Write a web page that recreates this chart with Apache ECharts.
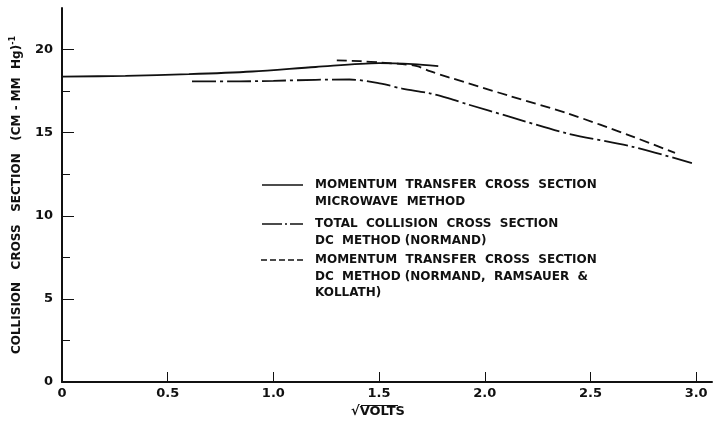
<!DOCTYPE html>
<html>
<head>
<meta charset="utf-8">
<script src="https://cdn.jsdelivr.net/npm/echarts@6/dist/echarts.min.js"></script>
<style>
  html, body { margin: 0; padding: 0; background: #fff; }
  #chart { width: 715px; height: 429px; }
</style>
</head>
<body>
<div id="chart"></div>
<script>
// Collision cross section vs sqrt(volts), three measurement methods
const microwaveX = [0, 0.3, 0.6, 0.9, 1.2, 1.5, 1.66, 1.78];
const microwaveY = [18.37, 18.42, 18.52, 18.68, 18.95, 19.18, 19.12, 19.0];

const totalDcX = [0.615, 0.8, 1.0, 1.2, 1.36, 1.51, 1.61, 1.74, 1.83, 1.92, 2.12, 2.39, 2.7, 2.98];
const totalDcY = [18.08, 18.08, 18.12, 18.18, 18.2, 17.95, 17.65, 17.37, 17.06, 16.7, 15.95, 14.95, 14.15, 13.17];

const momentumDcX = [1.3, 1.41, 1.51, 1.61, 1.68, 1.74, 1.83, 2.12, 2.39, 2.7, 2.9];
const momentumDcY = [19.35, 19.3, 19.22, 19.12, 19.0, 18.7, 18.33, 17.2, 16.17, 14.76, 13.78];

const xTicks = [0, 0.5, 1.0, 1.5, 2.0, 2.5, 3.0];
const yMajorTicks = [0, 5, 10, 15, 20];
const yMinorTicks = [2.5, 7.5, 12.5, 17.5];

const legendNames = [
  'MOMENTUM  TRANSFER  CROSS  SECTION\nMICROWAVE  METHOD',
  'TOTAL  COLLISION  CROSS  SECTION\nDC  METHOD (NORMAND)',
  'MOMENTUM  TRANSFER  CROSS  SECTION\nDC  METHOD (NORMAND,  RAMSAUER  &\nKOLLATH)'
];

const ink = '#111';
const font = 'DejaVu Sans';
const pairs = (xs, ys) => xs.map((x, i) => [x, ys[i]]);

const chart = echarts.init(document.getElementById('chart'), null, { renderer: 'canvas' });

const dashDot = [24, 4, 3, 4];
const dashed = [10, 5];
const keyFont = 'bold 12px "DejaVu Sans"';

chart.setOption({
  backgroundColor: '#fff',
  animation: false,
  grid: { left: 62, right: 3, top: 8, bottom: 47, containLabel: false, outerBoundsMode: 'none' },
  xAxis: {
    type: 'value', min: 0, max: 3.075,
    axisLine: { show: true, onZero: false, lineStyle: { color: ink, width: 2 } },
    axisTick: { show: true, inside: true, length: 10, customValues: xTicks, lineStyle: { color: ink, width: 1 } },
    axisLabel: {
      customValues: xTicks, color: ink, fontFamily: font, fontSize: 13, fontWeight: 'bold', margin: 5,
      formatter: v => (v === 0 ? '0' : v.toFixed(1))
    },
    splitLine: { show: false }
  },
  yAxis: [{
    type: 'value', min: 0, max: 22.5,
    name: '{t|COLLISION   CROSS   SECTION   (CM - MM  Hg)}{s|-1}',
    nameLocation: 'middle', nameGap: 37, nameRotate: 90,
    nameTextStyle: {
      rich: {
        t: { fontFamily: font, fontSize: 12, fontWeight: 'bold', color: ink },
        s: { fontFamily: font, fontSize: 8, fontWeight: 'bold', color: ink, verticalAlign: 'top', padding: [0, 0, 8, 0] }
      }
    },
    axisLine: { show: true, onZero: false, lineStyle: { color: ink, width: 2 } },
    axisTick: { show: true, inside: true, length: 12, customValues: yMajorTicks, lineStyle: { color: ink, width: 1 } },
    axisLabel: { customValues: yMajorTicks, color: ink, fontFamily: font, fontSize: 13, fontWeight: 'bold', margin: 9 },
    splitLine: { show: false }
  }, {
    type: 'value', min: 0, max: 22.5, position: 'left',
    axisLine: { show: false },
    axisTick: { show: true, inside: true, length: 8, customValues: yMinorTicks, lineStyle: { color: ink, width: 1 } },
    axisLabel: { show: false },
    splitLine: { show: false }
  }],
  series: [{
    name: legendNames[0], type: 'line', data: pairs(microwaveX, microwaveY),
    smooth: 0.3, symbol: 'none', lineStyle: { color: ink, width: 1.8, type: 'solid' }
  }, {
    name: legendNames[1], type: 'line', data: pairs(totalDcX, totalDcY),
    smooth: 0.3, symbol: 'none', lineStyle: { color: ink, width: 1.8, type: dashDot }
  }, {
    name: legendNames[2], type: 'line', data: pairs(momentumDcX, momentumDcY),
    smooth: 0.3, symbol: 'none', lineStyle: { color: ink, width: 1.8, type: dashed }
  }],
  graphic: [
    // key: line samples and their descriptions
    { type: 'line', shape: { x1: 262, y1: 185, x2: 303, y2: 185 }, style: { stroke: ink, lineWidth: 1.6 } },
    { type: 'line', shape: { x1: 262, y1: 224, x2: 303, y2: 224 }, style: { stroke: ink, lineWidth: 1.6, lineDash: [20, 3, 2, 3] } },
    { type: 'line', shape: { x1: 261, y1: 260, x2: 304, y2: 260 }, style: { stroke: ink, lineWidth: 1.6, lineDash: [6, 3] } },
    { type: 'text', x: 315, y: 177, style: { text: legendNames[0], fill: ink, font: keyFont, lineHeight: 16.5 } },
    { type: 'text', x: 315, y: 216, style: { text: legendNames[1], fill: ink, font: keyFont, lineHeight: 16.5 } },
    { type: 'text', x: 315, y: 252, style: { text: legendNames[2], fill: ink, font: keyFont, lineHeight: 16.5 } },
    // axis title with radical overline
    { type: 'text', x: 351, y: 405, style: { text: '\u221AVOLTS', fill: ink, font: 'bold 13px "DejaVu Sans"' } },
    { type: 'line', shape: { x1: 361, y1: 405.5, x2: 398, y2: 405.5 }, style: { stroke: ink, lineWidth: 1.2 } }
  ]
});
</script>
</body>
</html>
